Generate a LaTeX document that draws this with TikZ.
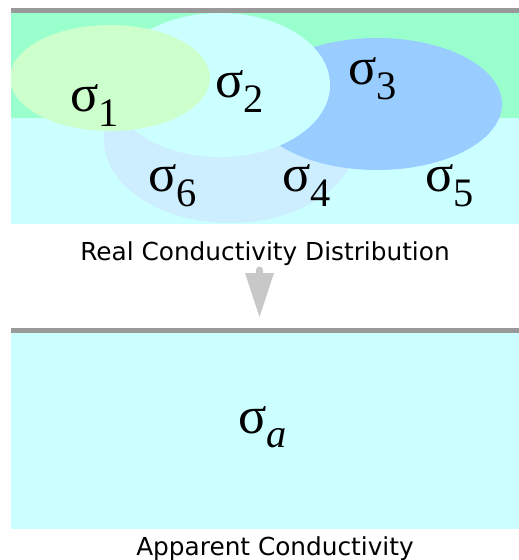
\documentclass[tikz,border=0pt]{standalone}
\usepackage{fontspec}
\usepackage{xcolor}
\usetikzlibrary{arrows.meta}

\newfontfamily\capfont{DejaVu Sans}
\newfontfamily\sigfont{Liberation Serif}

\definecolor{lineGray}{HTML}{999999}
\definecolor{arrGray}{HTML}{C8C8C8}
\definecolor{bandGreen}{HTML}{99FFCC}
\definecolor{soilCyan}{HTML}{CCFFFF}
\definecolor{blobGreen}{HTML}{CCFFCC}
\definecolor{blobBlue}{HTML}{99CCFF}
\definecolor{blobPale}{HTML}{CCEEFF}

% sigma with a lowered index
\newcommand{\sig}[1]{{\fontsize{30}{30}\sigfont σ}\raisebox{-8pt}{\fontsize{23}{23}\sigfont #1}}

\tikzset{
  siglabel/.style={anchor=base west, inner sep=0pt},
  caption/.style={anchor=base, inner sep=0pt, font=\capfont\fontsize{14.1}{15}\selectfont},
  groundline/.style={draw=lineGray, line width=2.85pt},
}

\begin{document}
\begin{tikzpicture}[x=0.02cm, y=-0.02cm]
		% ---- Page geometry (pixels, y downwards) ----
		\def\xL{11}     % left edge of both boxes
		\def\xR{519}    % right edge of both boxes
		\def\tTop{13}   % top of upper box
		\def\tMid{118}  % green / cyan boundary
		\def\tBot{224}  % bottom of upper box
		\def\bTop{333}  % top of lower box
		\def\bBot{529}  % bottom of lower box
		
		\useasboundingbox (0,0) rectangle (519,560);
		
		% ---- Upper box: two layers ----
		\fill[bandGreen] (\xL,\tTop) rectangle (\xR,\tMid);
		\fill[soilCyan] (\xL,\tMid) rectangle (\xR,\tBot);
		
		% ---- Conductivity bodies (back to front) ----
		\begin{scope}
			\clip (\xL,\tTop) rectangle (\xR,\tBot);
			\fill[blobPale] (230,140) ellipse [x radius=126, y radius=83];
			\fill[blobBlue] (377,104) ellipse [x radius=125, y radius=66];
			\fill[soilCyan] (220,85) ellipse [x radius=110, y radius=72];
			\fill[blobGreen] (110,78) ellipse [x radius=100, y radius=53];
		\end{scope}
		
		% ---- Surface lines ----
		\draw[groundline] (\xL,10.5) -- (\xR,10.5);
		\draw[groundline] (\xL,330.5) -- (\xR,330.5);
		
		% ---- Labels in upper box ----
		\node[siglabel] (s1) at (70,112) {\sig{1}};
		\node[siglabel] (s2) at (215,98) {\sig{2}};
		\node[siglabel] (s3) at (348,85) {\sig{3}};
		\node[siglabel] (s6) at (148,192) {\sig{6}};
		\node[siglabel] (s4) at (282,192) {\sig{4}};
		\node[siglabel] (s5) at (425,192) {\sig{5}};
		
		\node[caption] (realcap) at (265,260) {Real Conductivity Distribution};
		
		% ---- Arrow down to apparent model ----
		\coordinate (arrtop) at (259.5,270);
		\coordinate (arrback) at (259.5,274);
		\coordinate (arrtip) at (259.5,317);
		\draw[arrGray, line width=4pt, line cap=round] (arrtop) -- (arrback);
		\fill[arrGray] (arrback) ++(-14.5,-1) -- (arrtip) -- ([xshift=14.5*0.02cm, yshift=0.02cm]arrback) -- cycle;
		
		% ---- Lower box: homogeneous half-space ----
		\fill[soilCyan] (\xL,\bTop) rectangle (\xR,\bBot);
		\node[siglabel] (sa) at (238,433) {{\fontsize{30}{30}\sigfont σ}\raisebox{-8pt}{\fontsize{23}{23}\sigfont\itshape a}};
		
		\node[caption] (appcap) at (275,555) {Apparent Conductivity};
		
	\end{tikzpicture}
\end{document}
